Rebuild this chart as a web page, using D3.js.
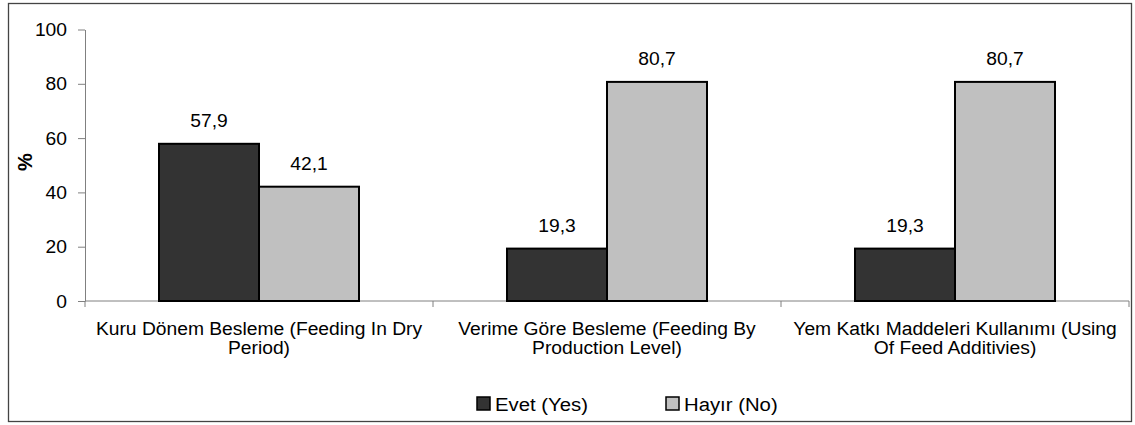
<!DOCTYPE html>
<html>
<head>
<meta charset="utf-8">
<script src="https://cdn.jsdelivr.net/npm/d3@7"></script>
<style>
  body { margin: 0; background: #fff; }
  text { font-family: "Liberation Sans", Arial, sans-serif; fill: #000; }
</style>
</head>
<body>
<svg width="1135" height="425"></svg>
<script>
// data
var categories = [
  ['Kuru Dönem Besleme (Feeding In Dry', 'Period)'],
  ['Verime Göre Besleme (Feeding By', 'Production Level)'],
  ['Yem Katkı Maddeleri Kullanımı (Using', 'Of Feed Additivies)']
];
var seriesNames = ['Evet (Yes)', 'Hayır (No)'];
var evetValues = [57.9, 19.3, 19.3];
var hayirValues = [42.1, 80.7, 80.7];
var yTicks = [0, 20, 40, 60, 80, 100];
var colors = ['#333333', '#c0c0c0'];

var svg = d3.select('svg');
var SX = 1.07; // the original image is a bit stretched sideways

// text helper: stretched text placed at x,y
function label(px, py, anchor, size) {
  return svg.append('g')
    .attr('transform', 'translate(' + px + ',' + py + ') scale(' + SX + ',1)')
    .append('text')
    .attr('text-anchor', anchor || 'middle')
    .attr('font-size', (size || 18) + 'px');
}

// outer frame
svg.append('rect')
  .attr('x', 8.5).attr('y', 3.5)
  .attr('width', 1123).attr('height', 418)
  .attr('fill', 'none').attr('stroke', '#444').attr('stroke-width', 1.3);

var mLeft = 85, mRight = 1129, mTop = 29.5, mBottom = 301;

var x = d3.scaleBand().domain(d3.range(categories.length)).range([mLeft, mRight]);
var y = d3.scaleLinear().domain([0, 100]).range([mBottom, mTop]);
var barW = 100;

var data = categories.map(function(c, i) {
  return {i: i, vals: [evetValues[i], hayirValues[i]]};
});

// y axis (line + ticks from d3, labels drawn stretched)
var yAxis = svg.append('g')
  .attr('transform', 'translate(' + mLeft + ',0)')
  .call(d3.axisLeft(y).tickValues(yTicks).tickSize(7).tickSizeOuter(0).tickFormat(''));
yAxis.select('.domain').attr('stroke', '#808080');
yAxis.selectAll('.tick line').attr('stroke', '#808080');
yTicks.forEach(function(t) {
  label(67, y(t) + 6.5, 'end').text(t);
});

// x axis
svg.append('line')
  .attr('x1', mLeft).attr('x2', mRight).attr('y1', y(0)).attr('y2', y(0))
  .attr('stroke', '#808080');
svg.selectAll('.xtick')
  .data(d3.range(categories.length + 1))
  .enter().append('line')
  .attr('x1', function(d) { return mLeft + d * x.bandwidth(); })
  .attr('x2', function(d) { return mLeft + d * x.bandwidth(); })
  .attr('y1', y(0)).attr('y2', y(0) + 6)
  .attr('stroke', '#808080');

// bars
var bars = [];
data.forEach(function(d) {
  d.vals.forEach(function(v, k) { bars.push({i: d.i, k: k, v: v}); });
});
svg.selectAll('.bar')
  .data(bars)
  .enter().append('rect')
  .attr('x', function(d) { return x(d.i) + x.bandwidth() / 2 - barW + d.k * barW; })
  .attr('y', function(d) { return y(d.v); })
  .attr('width', barW)
  .attr('height', function(d) { return y(0) - y(d.v); })
  .attr('fill', function(d) { return colors[d.k]; })
  .attr('stroke', '#000').attr('stroke-width', 2);

bars.forEach(function(d) {
  label(x(d.i) + x.bandwidth() / 2 - barW / 2 + d.k * barW, y(d.v) - 16.5)
    .text(String(d.v).replace('.', ','));
});

// category labels
categories.forEach(function(lines, i) {
  var t = label(x(i) + x.bandwidth() / 2, 334.5);
  lines.forEach(function(l, j) {
    t.append('tspan').attr('x', 0).attr('dy', j ? 19.5 : 0).text(l);
  });
});

// y title
svg.append('text')
  .attr('transform', 'translate(32,162) rotate(-90)')
  .attr('text-anchor', 'middle')
  .attr('font-size', '20px').attr('font-weight', 'bold')
  .text('%');

// legend
var legX = [477, 666];
seriesNames.forEach(function(n, k) {
  svg.append('rect')
    .attr('x', legX[k]).attr('y', 397)
    .attr('width', 13).attr('height', 13)
    .attr('fill', colors[k]).attr('stroke', '#000').attr('stroke-width', 1.5);
  label(legX[k] + 18, 410.5, 'start', 19).text(n);
});
</script>
</body>
</html>
